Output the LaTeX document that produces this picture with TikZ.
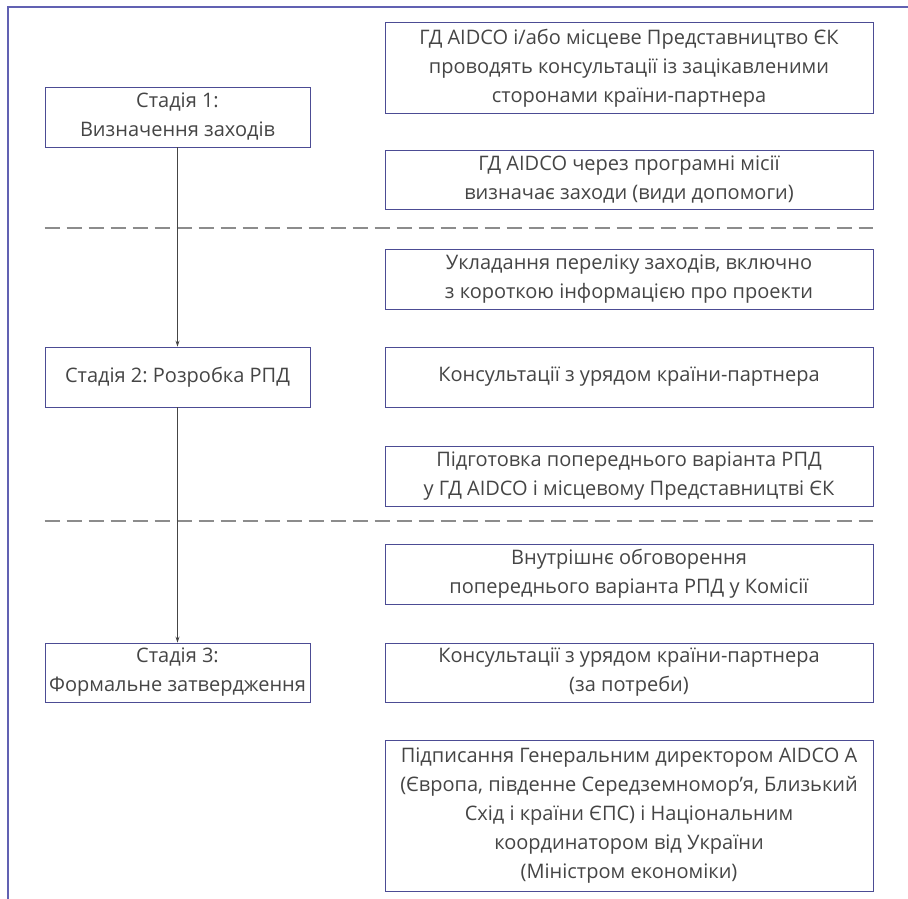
\documentclass[tikz,border=0pt]{standalone}
\usepackage{fontspec}
\setmainfont{Open Sans}
\frenchspacing
\usetikzlibrary{arrows.meta}
\definecolor{framecol}{rgb}{0.38,0.38,0.70}
\definecolor{boxcol}{rgb}{0.30,0.30,0.58}
\definecolor{txtcol}{rgb}{0.27,0.27,0.27}
\definecolor{dashcol}{rgb}{0.55,0.55,0.55}
\tikzset{
  rbox/.style={draw=boxcol, line width=0.9pt, rectangle, align=center, inner sep=0pt,
    minimum width=488pt, text=txtcol, font=\fontsize{20}{29}\selectfont},
  lbox/.style={draw=boxcol, line width=0.9pt, rectangle, align=center, inner sep=0pt,
    minimum width=265pt, minimum height=60pt, text=txtcol, font=\fontsize{20}{29}\selectfont},
  arr/.style={draw=txtcol, line width=0.8pt, -{Stealth[length=6pt,width=4pt]}},
  sep/.style={draw=dashcol, line width=1.5pt, dash pattern=on 15pt off 7pt},
  frame/.style={draw=framecol, line width=2pt}
}
\begin{document}
\begin{tikzpicture}[x=1pt,y=-1pt]
\useasboundingbox (0,0) rectangle (908,899);
\draw[frame] (908,7.5) -- (7.5,7.5) -- (7.5,899);
% right boxes
\node[rbox, minimum height=90.5pt] (b1) at (629,67.75) {ГД AIDCO і/або місцеве Представництво ЄК\\проводять консультації із зацікавленими\\сторонами країни-партнера};
\node[rbox, minimum height=59pt] (b2) at (629,179.5) {ГД AIDCO через програмні місії\\визначає заходи (види допомоги)};
\node[rbox, minimum height=60pt] (b3) at (629,279) {Укладання переліку заходів, включно\\з короткою інформацією про проекти};
\node[rbox, minimum height=60pt] (b4) at (629,377) {Консультації з урядом країни-партнера};
\node[rbox, minimum height=60pt] (b5) at (629,476) {Підготовка попереднього варіанта РПД\\у ГД AIDCO і місцевому Представництві ЄК};
\node[rbox, minimum height=60pt] (b6) at (629,574) {Внутрішнє обговорення\\попереднього варіанта РПД у Комісії};
\node[rbox, minimum height=59pt] (b7) at (629,672.5) {Консультації з урядом країни-партнера\\(за потреби)};
\node[rbox, minimum height=151pt] (b8) at (629,815.5) {Підписання Генеральним директором AIDCO A\\(Європа, південне Середземномор’я, Близький\\Схід і країни ЄПС) і Національним\\координатором від України\\(Міністром економіки)};
% left boxes
\node[lbox] (s1) at (177.5,117) {Стадія 1:\\Визначення заходів};
\node[lbox] (s2) at (177.5,377) {Стадія 2: Розробка РПД};
\node[lbox, minimum height=59pt] (s3) at (177.5,672.5) {Стадія 3:\\Формальне затвердження};
% separators
\draw[sep] (s1.west |- 0,228) -- (b2.east |- 0,228);
\draw[sep] (s1.west |- 0,521) -- (b2.east |- 0,521);
% connectors
\draw[arr] (s1.south) -- (s2.north);
\draw[arr] (s2.south) -- (s3.north);
\end{tikzpicture}
\end{document}
